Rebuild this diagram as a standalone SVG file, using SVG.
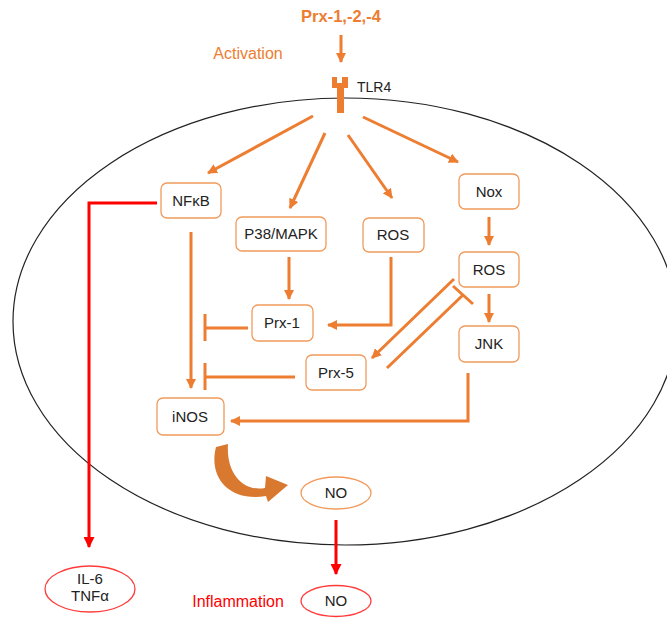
<svg xmlns="http://www.w3.org/2000/svg" width="667" height="618" viewBox="0 0 667 618">
<defs>
<marker id="ao" viewBox="0 0 10 10" refX="9" refY="5" markerWidth="10" markerHeight="10" markerUnits="userSpaceOnUse" orient="auto"><path d="M0,0 L10,5 L0,10 z" fill="#ED7D31"/></marker>
<marker id="ar" viewBox="0 0 10 10" refX="9" refY="5" markerWidth="11" markerHeight="11" markerUnits="userSpaceOnUse" orient="auto"><path d="M0,0 L10,5 L0,10 z" fill="#FF0000"/></marker>
</defs>
<style>
.box{fill:#fff;stroke:#F19A5B;stroke-width:1.3}
.t{font-family:"Liberation Sans",Arial,sans-serif;font-size:15px;fill:#222;text-anchor:middle}
.o{stroke:#ED7D31;stroke-width:3;fill:none}
.r{stroke:#FF0000;stroke-width:3;fill:none}
</style>
<rect width="667" height="618" fill="#fff"/>
<ellipse id="cell" cx="345" cy="321.5" rx="332" ry="223.5" fill="none" stroke="#222" stroke-width="1.2"/>

<g id="prx124"><text x="341" y="22" font-family="Liberation Sans,Arial,sans-serif" font-size="16.5" font-weight="bold" fill="#ED7D31" text-anchor="middle">Prx-1,-2,-4</text></g>
<g id="activation"><text x="248" y="59" font-family="Liberation Sans,Arial,sans-serif" font-size="16" fill="#ED7D31" text-anchor="middle">Activation</text></g>
<g id="tlr4">
<path d="M332,77 h5 v6 h5 v-6 h6 v11 h-4 v25 h-7 v-25 h-5 z" fill="#ED7D31"/>
<text x="357" y="92" font-family="Liberation Sans,Arial,sans-serif" font-size="14" fill="#222">TLR4</text>
</g>

<g id="connectors">
<line class="o" x1="341" y1="35" x2="341" y2="62" marker-end="url(#ao)"/>
<line class="o" x1="313" y1="116" x2="208" y2="173" marker-end="url(#ao)"/>
<line class="o" x1="325" y1="133" x2="290" y2="208" marker-end="url(#ao)"/>
<line class="o" x1="348" y1="135" x2="392" y2="198" marker-end="url(#ao)"/>
<line class="o" x1="363" y1="117" x2="458" y2="162" marker-end="url(#ao)"/>
<line class="o" x1="489" y1="217" x2="489" y2="245" marker-end="url(#ao)"/>
<line class="o" x1="489" y1="294" x2="489" y2="322" marker-end="url(#ao)"/>
<line class="o" x1="191" y1="232" x2="191" y2="388" marker-end="url(#ao)"/>
<line class="o" x1="289" y1="257" x2="289" y2="299" marker-end="url(#ao)"/>
<polyline class="o" points="391,257 391,325 328,325" marker-end="url(#ao)"/>
<line class="o" x1="248" y1="328" x2="205" y2="328"/>
<line class="o" x1="205" y1="314" x2="205" y2="341"/>
<line class="o" x1="295" y1="377" x2="205" y2="377"/>
<line class="o" x1="205" y1="363" x2="205" y2="390"/>
<line class="o" x1="454" y1="279" x2="372" y2="358" marker-end="url(#ao)"/>
<line class="o" x1="387" y1="368" x2="463" y2="295"/>
<line class="o" x1="453" y1="286" x2="473" y2="304"/>
<polyline class="o" points="468,373 468,421 231,421" marker-end="url(#ao)"/>
<path d="M216,447 C208,478 230,502 266,496 L268,502 L288,485 L266,476 L265,488 C242,492 226,472 228,444 Z" fill="#D9782F"/>
<polyline class="r" points="157,203 89,203 89,547" marker-end="url(#ar)"/>
<line class="r" x1="336" y1="520" x2="336" y2="574" marker-end="url(#ar)"/>
</g>

<g id="nfkb"><rect class="box" x="161" y="183" width="60" height="35" rx="6"/><text class="t" x="191" y="206">NFκB</text></g>
<g id="p38"><rect class="box" x="236" y="217" width="90" height="34" rx="6"/><text class="t" x="281" y="239">P38/MAPK</text></g>
<g id="ros1"><rect class="box" x="363" y="218" width="61" height="34" rx="6"/><text class="t" x="393" y="240">ROS</text></g>
<g id="nox"><rect class="box" x="459" y="174" width="60" height="35" rx="6"/><text class="t" x="489" y="197">Nox</text></g>
<g id="ros2"><rect class="box" x="459" y="252" width="60" height="35" rx="6"/><text class="t" x="489" y="275">ROS</text></g>
<g id="jnk"><rect class="box" x="459" y="326" width="60" height="36" rx="6"/><text class="t" x="489" y="349">JNK</text></g>
<g id="prx1"><rect class="box" x="252" y="305" width="61" height="36" rx="6"/><text class="t" x="282" y="328">Prx-1</text></g>
<g id="prx5"><rect class="box" x="306" y="355" width="60" height="35" rx="6"/><text class="t" x="336" y="378">Prx-5</text></g>
<g id="inos"><rect class="box" x="157" y="398" width="67" height="37" rx="6"/><text class="t" x="190" y="422">iNOS</text></g>
<g id="no1"><ellipse cx="336" cy="493" rx="35" ry="16" fill="#fff" stroke="#F19A5B" stroke-width="1.3"/><text class="t" x="336" y="498">NO</text></g>
<g id="no2"><ellipse cx="336" cy="601" rx="35" ry="15.5" fill="#fff" stroke="#FF3B3B" stroke-width="1.3"/><text class="t" x="336" y="606">NO</text></g>
<g id="il6"><ellipse cx="90" cy="589" rx="45" ry="23" fill="#fff" stroke="#FF3B3B" stroke-width="1.3"/><text class="t" x="90" y="584">IL-6</text><text class="t" x="90" y="601">TNFα</text></g>
<g id="inflammation"><text x="238" y="607" font-family="Liberation Sans,Arial,sans-serif" font-size="16" fill="#FF0000" text-anchor="middle">Inflammation</text></g>
</svg>
